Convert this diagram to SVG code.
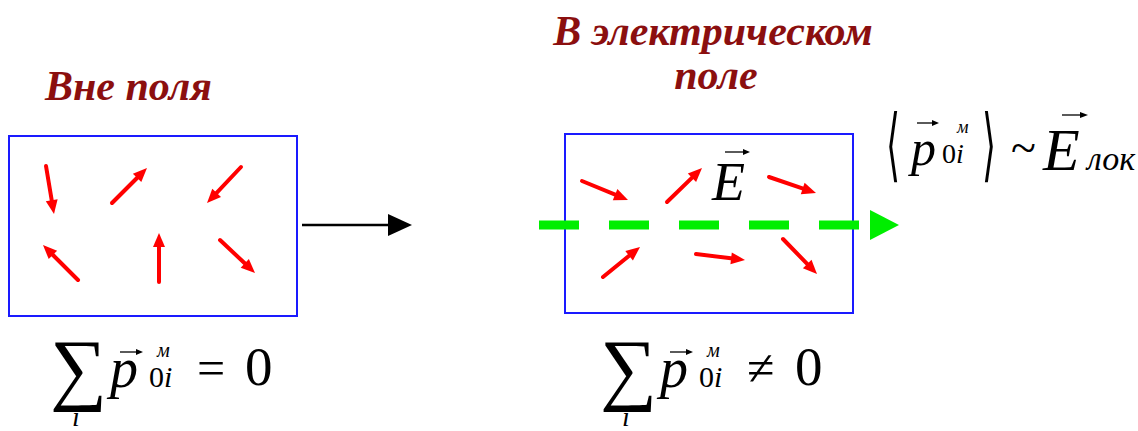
<svg xmlns="http://www.w3.org/2000/svg" width="1138" height="431" viewBox="0 0 1138 431">
<g id="title-left"><text font-family="Liberation Serif" font-weight="bold" font-style="italic" font-size="42" fill="#8B0F0F" x="45" y="100">Вне поля</text></g>
<g id="title-right">
<text font-family="Liberation Serif" font-weight="bold" font-style="italic" font-size="42" fill="#8B0F0F" x="713" y="45" text-anchor="middle">В электрическом</text>
<text font-family="Liberation Serif" font-weight="bold" font-style="italic" font-size="42" fill="#8B0F0F" x="716" y="89" text-anchor="middle">поле</text>
</g>

<g id="box-left">
<rect x="9" y="136" width="288" height="180" fill="none" stroke="#1A1AFF" stroke-width="2"/>
<g stroke="#FF0000" stroke-width="4" stroke-linecap="round">
<line x1="46" y1="166" x2="52" y2="202"/>
<line x1="112" y1="203" x2="138.5" y2="176.5"/>
<line x1="241" y1="167" x2="215.2" y2="194.3"/>
<line x1="78" y1="280" x2="51.5" y2="253.5"/>
<line x1="159" y1="282" x2="159" y2="245"/>
<line x1="220" y1="240" x2="246.3" y2="264.8"/>
</g>
<g fill="#FF0000">
<polygon points="54,214 45.8,201.2 57.6,199.2"/>
<polygon points="147,168 141.3,182.1 132.9,173.7"/>
<polygon points="207,203 212.3,188.7 221,196.9"/>
<polygon points="43,245 57.1,250.7 48.7,259.1"/>
<polygon points="159,233 165,247 153,247"/>
<polygon points="255,273 240.7,267.8 248.9,259"/>
</g>
</g>

<g id="box-right">
<rect x="565" y="134" width="288" height="179" fill="none" stroke="#1A1AFF" stroke-width="2"/>
<g stroke="#FF0000" stroke-width="4" stroke-linecap="round">
<line x1="582" y1="181" x2="617" y2="195.4"/>
<line x1="667" y1="202" x2="693.4" y2="176.4"/>
<line x1="769" y1="177" x2="804.6" y2="189.1"/>
<line x1="603" y1="277" x2="630.7" y2="254.5"/>
<line x1="696" y1="254" x2="733.1" y2="258.6"/>
<line x1="783" y1="239" x2="808.6" y2="265.4"/>
</g>
<g fill="#FF0000">
<polygon points="628,200 612.8,200.2 617.4,189.1"/>
<polygon points="702,168 696.1,182.1 687.8,173.5"/>
<polygon points="816,193 800.8,194.2 804.6,182.8"/>
<polygon points="640,247 632.9,260.5 625.3,251.1"/>
<polygon points="745,260 730.4,264.3 731.8,252.4"/>
<polygon points="817,274 802.9,268.2 811.5,259.8"/>
</g>
</g>

<g id="label-E">
<text font-family="Liberation Serif" font-style="italic" font-size="54" fill="#000" x="712" y="200">E</text>
<line x1="725" y1="152" x2="744" y2="152" stroke="#000" stroke-width="1.3"/>
<polygon points="743,149 750,152 743,155" fill="#000"/>
</g>

<g id="connectors">
<line x1="302" y1="225" x2="390" y2="225" stroke="#000" stroke-width="2.5"/>
<polygon points="388,214 412,225 388,236" fill="#000"/>
<line x1="539" y1="225" x2="860" y2="225" stroke="#00EE00" stroke-width="9" stroke-dasharray="40 30"/>
<polygon points="870,210 899,225 870,240" fill="#00EE00"/>
</g>

<g id="formula-left">
<text font-family="Liberation Serif" font-size="80" x="50" y="395">∑</text>
<text font-family="Liberation Serif" font-style="italic" font-size="28" x="72" y="426">i</text>
<text font-family="Liberation Serif" font-style="italic" font-size="56" x="110" y="387">p</text>
<line x1="120" y1="352" x2="137" y2="352" stroke="#000" stroke-width="1.3"/>
<polygon points="136,349 143,352 136,355" fill="#000"/>
<text font-family="Liberation Serif" font-size="30" x="149" y="387">0<tspan font-style="italic">i</tspan></text>
<text font-family="Liberation Serif" font-style="italic" font-size="20" x="157" y="357">м</text>
<text font-family="Liberation Serif" font-size="50" x="197" y="385">=</text>
<text font-family="Liberation Serif" font-size="55" x="245" y="385">0</text>
</g>

<g id="formula-right">
<text font-family="Liberation Serif" font-size="80" x="600" y="395">∑</text>
<text font-family="Liberation Serif" font-style="italic" font-size="28" x="622" y="426">i</text>
<text font-family="Liberation Serif" font-style="italic" font-size="56" x="660" y="387">p</text>
<line x1="670" y1="352" x2="687" y2="352" stroke="#000" stroke-width="1.3"/>
<polygon points="686,349 693,352 686,355" fill="#000"/>
<text font-family="Liberation Serif" font-size="30" x="699" y="387">0<tspan font-style="italic">i</tspan></text>
<text font-family="Liberation Serif" font-style="italic" font-size="20" x="707" y="357">м</text>
<text font-family="Liberation Serif" font-size="50" x="747" y="385">≠</text>
<text font-family="Liberation Serif" font-size="55" x="795" y="385">0</text>
</g>

<g id="formula-top">
<text font-family="DejaVu Serif" font-size="40" x="0" y="0" transform="translate(886,172) scale(0.9,2)">⟨</text>
<text font-family="Liberation Serif" font-style="italic" font-size="50" x="911" y="165">p</text>
<line x1="917" y1="123" x2="933" y2="123" stroke="#000" stroke-width="1.3"/>
<polygon points="932,120 939,123 932,126" fill="#000"/>
<text font-family="Liberation Serif" font-size="28" x="942" y="163">0<tspan font-style="italic">i</tspan></text>
<text font-family="Liberation Serif" font-style="italic" font-size="18" x="957" y="133">м</text>
<text font-family="DejaVu Serif" font-size="40" x="0" y="0" transform="translate(982,172) scale(0.9,2)">⟩</text>
<text font-family="Liberation Serif" font-size="46" x="1011" y="163">~</text>
<text font-family="Liberation Serif" font-style="italic" font-size="60" x="1043" y="170">E</text>
<line x1="1062" y1="115" x2="1081" y2="115" stroke="#000" stroke-width="1.3"/>
<polygon points="1080,112 1088,115 1080,118" fill="#000"/>
<text font-family="Liberation Serif" font-style="italic" font-size="34" x="1087" y="170">лок</text>
</g>
</svg>
